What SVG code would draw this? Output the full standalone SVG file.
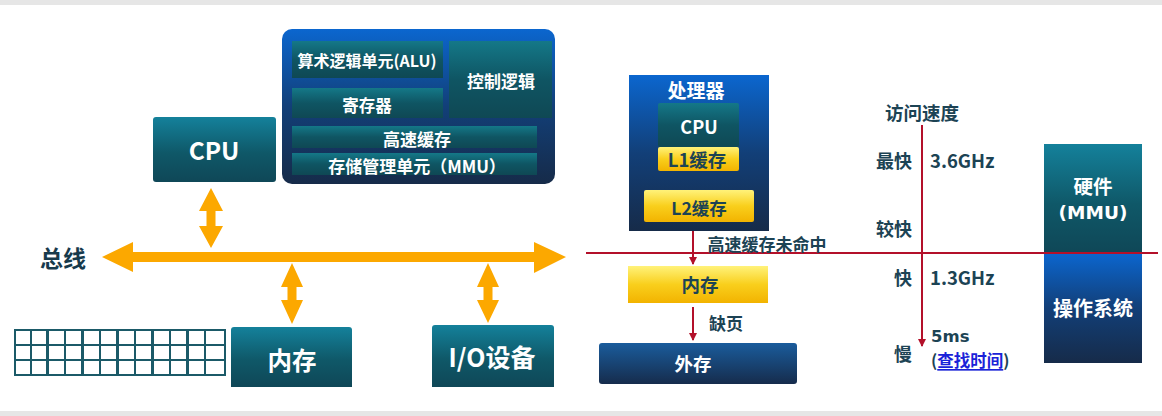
<svg xmlns="http://www.w3.org/2000/svg" width="1162" height="416" viewBox="0 0 1162 416">
<defs>
<linearGradient id="teal" x1="0" y1="0" x2="0" y2="1"><stop offset="0" stop-color="#14819b"/><stop offset="0.55" stop-color="#0f5868"/><stop offset="1" stop-color="#0f4757"/></linearGradient>
<linearGradient id="tealIn" x1="0" y1="0" x2="0" y2="1"><stop offset="0" stop-color="#147888"/><stop offset="0.5" stop-color="#0f5563"/><stop offset="1" stop-color="#0f4854"/></linearGradient>
<linearGradient id="blue" x1="0" y1="0" x2="0" y2="1"><stop offset="0" stop-color="#0b66cf"/><stop offset="0.5" stop-color="#123f78"/><stop offset="1" stop-color="#162b49"/></linearGradient>
<linearGradient id="yellow" x1="0" y1="0" x2="0" y2="1"><stop offset="0" stop-color="#fff27a"/><stop offset="0.5" stop-color="#f9cf1c"/><stop offset="1" stop-color="#f2b300"/></linearGradient>
<linearGradient id="navy" x1="0" y1="0" x2="0" y2="1"><stop offset="0" stop-color="#1a5c9c"/><stop offset="1" stop-color="#162c4c"/></linearGradient>
<marker id="redHeadDown" markerWidth="8" markerHeight="8" refX="7" refY="4" orient="auto" markerUnits="userSpaceOnUse" viewBox="0 0 8 8"><path d="M0,0 L8,4 L0,8 Z" fill="#b3102a"/></marker>
</defs>
<style>
text{font-family:"Noto Sans CJK SC","Noto Sans",sans-serif;font-weight:bold;text-anchor:middle;dominant-baseline:central}
.lat{font-family:"DejaVu Sans","Noto Sans",sans-serif}
.w{fill:#ffffff}
.d{fill:#1c4354}
.bus{fill:#fca800}
.red{stroke:#b3102a;stroke-width:2;fill:none}
.st{text-anchor:start}
</style>
<rect x="0" y="0" width="1162" height="416" fill="#ffffff"/>
<rect x="0" y="0" width="1162" height="5" fill="#e6e6e6"/>
<rect x="0" y="411" width="1162" height="5" fill="#e6e6e6"/>

<g id="cpu-detail">
<rect x="282" y="29" width="273" height="155" rx="10" fill="url(#blue)"/>
<g id="alu"><rect x="292" y="41" width="151" height="37" fill="url(#tealIn)"/><text class="w" x="367" y="60" font-size="16">算术逻辑单元(ALU)</text></g>
<g id="control"><rect x="449" y="41" width="103" height="77" fill="url(#tealIn)"/><text class="w" x="501" y="80" font-size="17">控制逻辑</text></g>
<g id="register"><rect x="292" y="88" width="151" height="30" fill="url(#tealIn)"/><text class="w" x="367" y="105" font-size="16.5">寄存器</text></g>
<g id="cache"><rect x="292" y="126" width="245" height="22" fill="url(#tealIn)"/><text class="w" x="417" y="138" font-size="17">高速缓存</text></g>
<g id="mmu"><rect x="292" y="153" width="245" height="22" fill="url(#tealIn)"/><text class="w" x="417" y="165" font-size="17">存储管理单元（MMU）</text></g>
</g>

<g id="cpu"><rect x="153" y="117" width="123" height="65" rx="3" fill="url(#teal)"/><text class="w" x="214" y="149" font-size="24.5">CPU</text></g>
<g id="memory"><path d="M231,387 V330 a3,3 0 0 1 3,-3 H349 a3,3 0 0 1 3,3 V387 Z" fill="url(#teal)"/><text class="w" x="292" y="359" font-size="24.5">内存</text></g>
<g id="io"><path d="M432,387 V328 a3,3 0 0 1 3,-3 H551 a3,3 0 0 1 3,3 V387 Z" fill="url(#teal)"/><text class="w" x="492" y="356" font-size="25">I/O设备</text></g>

<g id="memory-grid">
<rect x="14" y="329" width="212" height="47" fill="#1b5a68"/>
<g fill="#ffffff">
<rect x="16" y="331" width="14" height="13"/><rect x="32" y="331" width="14" height="13"/><rect x="49" y="331" width="15" height="13"/><rect x="66" y="331" width="15" height="13"/><rect x="84" y="331" width="15" height="13"/><rect x="101" y="331" width="15" height="13"/><rect x="119" y="331" width="15" height="13"/><rect x="136" y="331" width="15" height="13"/><rect x="154" y="331" width="15" height="13"/><rect x="171" y="331" width="15" height="13"/><rect x="189" y="331" width="15" height="13"/><rect x="206" y="331" width="18" height="13"/>
<rect x="16" y="346" width="14" height="13"/><rect x="32" y="346" width="14" height="13"/><rect x="49" y="346" width="15" height="13"/><rect x="66" y="346" width="15" height="13"/><rect x="84" y="346" width="15" height="13"/><rect x="101" y="346" width="15" height="13"/><rect x="119" y="346" width="15" height="13"/><rect x="136" y="346" width="15" height="13"/><rect x="154" y="346" width="15" height="13"/><rect x="171" y="346" width="15" height="13"/><rect x="189" y="346" width="15" height="13"/><rect x="206" y="346" width="18" height="13"/>
<rect x="16" y="361" width="14" height="13"/><rect x="32" y="361" width="14" height="13"/><rect x="49" y="361" width="15" height="13"/><rect x="66" y="361" width="15" height="13"/><rect x="84" y="361" width="15" height="13"/><rect x="101" y="361" width="15" height="13"/><rect x="119" y="361" width="15" height="13"/><rect x="136" y="361" width="15" height="13"/><rect x="154" y="361" width="15" height="13"/><rect x="171" y="361" width="15" height="13"/><rect x="189" y="361" width="15" height="13"/><rect x="206" y="361" width="18" height="13"/>
</g>
</g>

<g id="bus-label"><text x="63" y="257" font-size="23" fill="#173a4c">总线</text></g>

<g id="connectors">
<path class="bus" d="M102,257 L133,242 L133,252 L534,252 L534,242 L566,257 L534,273 L534,262 L133,262 L133,272 Z"/>
<path class="bus" d="M211,188 L223,211 L215.5,211 L215.5,226 L223,226 L211,248 L199,226 L206.5,226 L206.5,211 L199,211 Z"/>
<path class="bus" d="M292,263 L303,287 L296.5,287 L296.5,300 L303,300 L292,324 L281,300 L287.5,300 L287.5,287 L281,287 Z"/>
<path class="bus" d="M488,263 L499,287 L492.5,287 L492.5,300 L499,300 L488,323 L477,300 L483.5,300 L483.5,287 L477,287 Z"/>
<line class="red" x1="586" y1="253" x2="1158" y2="253"/>
<line class="red" x1="693" y1="231" x2="693" y2="264" marker-end="url(#redHeadDown)"/>
<line class="red" x1="693" y1="307" x2="693" y2="340" marker-end="url(#redHeadDown)"/>
<line class="red" x1="922" y1="125" x2="922" y2="346" marker-end="url(#redHeadDown)"/>
</g>

<g id="processor">
<rect x="629" y="75" width="140" height="156" fill="url(#blue)"/>
<text class="w" x="696" y="89" font-size="19">处理器</text>
<g id="proc-cpu"><rect x="658" y="103" width="81" height="44" rx="2" fill="url(#tealIn)"/><text class="w" x="699" y="126" font-size="18">CPU</text></g>
<g id="l1"><rect x="658" y="147" width="81" height="24" rx="2" fill="url(#yellow)"/><text class="d" x="697" y="159" font-size="18.5">L1缓存</text></g>
<g id="l2"><rect x="644" y="190" width="110" height="32" rx="2" fill="url(#yellow)"/><text class="d" x="699" y="207" font-size="17.5">L2缓存</text></g>
</g>
<text class="d" x="767" y="243" font-size="17">高速缓存未命中</text>
<g id="mem2"><rect x="628" y="266" width="140" height="37" fill="url(#yellow)"/><text class="d" x="700" y="284" font-size="18.5">内存</text></g>
<text class="d" x="726" y="322" font-size="17">缺页</text>
<g id="disk"><rect x="599" y="343" width="198" height="41" rx="3" fill="url(#navy)"/><text class="w" x="693" y="363" font-size="18.5">外存</text></g>

<g id="speed">
<text class="d" x="922" y="112" font-size="18.5">访问速度</text>
<text class="d" x="894" y="160" font-size="18">最快</text>
<text class="d st" x="930" y="160" font-size="18.5">3.6GHz</text>
<text class="d" x="894" y="228" font-size="18">较快</text>
<text class="d" x="903" y="277" font-size="18">快</text>
<text class="d st" x="930" y="277" font-size="18.5">1.3GHz</text>
<text class="d st lat" x="931" y="336" font-size="16.5">5ms</text>
<text class="d" x="903" y="353" font-size="18">慢</text>
<text class="d st" x="931" y="360" font-size="16.5">(<tspan fill="#1a22d8" text-decoration="underline">查找时间</tspan>)</text>
</g>

<g id="hardware"><rect x="1044" y="144" width="98" height="109" fill="url(#teal)"/><text class="w" x="1093" y="185" font-size="19.5">硬件</text><text class="w lat" x="1093" y="212" font-size="18.5">(MMU)</text></g>
<g id="os"><rect x="1044" y="253" width="98" height="110" fill="url(#blue)"/><text class="w" x="1093" y="307" font-size="20">操作系统</text></g>
<line class="red" x1="1040" y1="253" x2="1158" y2="253"/>
</svg>
